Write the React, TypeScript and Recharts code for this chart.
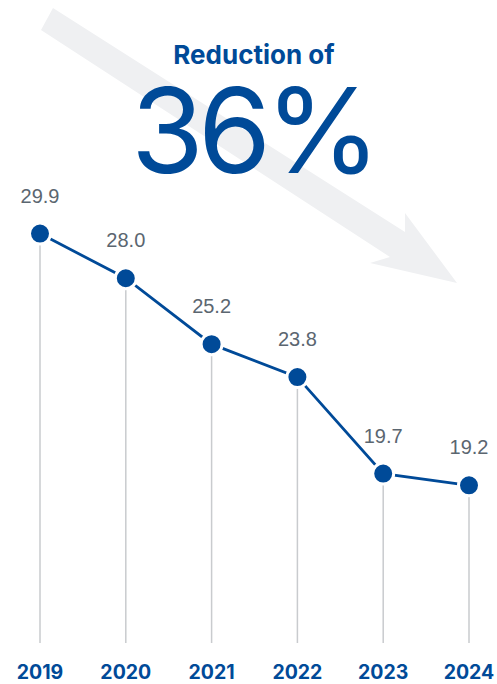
import React from 'react';
import {
  LineChart,
  Line,
  XAxis,
  YAxis,
  LabelList,
  ReferenceLine,
} from 'recharts';

const years = ['2019', '2020', '2021', '2022', '2023', '2024'];
const emissions = [29.9, 28.0, 25.2, 23.8, 19.7, 19.2];
const yDomain: [number, number] = [12.5, 36];

const BLUE = '#004a98';
const GREY_TEXT = '#5b6670';

const data = years.map((year, i) => ({ year, value: emissions[i] }));

function YearTick(props: any) {
  const { x, y, payload } = props;
  return (
    <text
      x={x}
      y={y}
      dy={28}
      textAnchor="middle"
      fill={BLUE}
      fontFamily="Inter, 'Liberation Sans', sans-serif"
      fontWeight={700}
      fontSize={19.5}
    >
      {payload.value}
    </text>
  );
}

export default function App() {
  return (
    <div
      style={{
        position: 'absolute',
        left: 0,
        top: 0,
        width: 497,
        height: 684,
        background: '#fff',
        overflow: 'hidden',
      }}
    >
      <svg
        width={497}
        height={684}
        style={{ position: 'absolute', left: 0, top: 0 }}
      >
        <polygon
          points="53,8 405,232 405,213 457,283 370,263 390,257 41,30"
          fill="#eff0f2"
        />
        <text
          x={254}
          y={64}
          textAnchor="middle"
          fill={BLUE}
          fontFamily="Inter, 'Liberation Sans', sans-serif"
          fontWeight={700}
          fontSize={26}
        >
          Reduction of
        </text>
        <text
          x={253}
          y={173}
          textAnchor="middle"
          fill={BLUE}
          fontFamily="Inter, 'Liberation Sans', sans-serif"
          fontWeight={400}
          fontSize={118}
          letterSpacing={-6}
        >
          36%
        </text>
      </svg>
      <div style={{ position: 'absolute', left: 0, top: 0 }}>
        <LineChart
          width={497}
          height={684}
          data={data}
          margin={{ top: 90, right: 28, bottom: 11, left: 40 }}
        >
          <XAxis
            dataKey="year"
            axisLine={false}
            tickLine={false}
            height={30}
            interval={0}
            tick={<YearTick />}
          />
          <YAxis hide domain={yDomain} />
          {data.map((d) => (
            <ReferenceLine
              key={d.year}
              segment={[
                { x: d.year, y: yDomain[0] },
                { x: d.year, y: d.value },
              ]}
              stroke="#c9cbce"
              strokeWidth={1.5}
            />
          ))}
          <Line
            dataKey="value"
            stroke={BLUE}
            strokeWidth={2.8}
            isAnimationActive={false}
            dot={{ r: 10.5, fill: BLUE, stroke: '#fff', strokeWidth: 3 }}
            activeDot={false}
          >
            <LabelList
              dataKey="value"
              position="top"
              offset={31}
              formatter={(v: any) => Number(v).toFixed(1)}
              fill={GREY_TEXT}
              fontSize={20}
              fontFamily="'Liberation Sans', Arial, sans-serif"
            />
          </Line>
        </LineChart>
      </div>
    </div>
  );
}
